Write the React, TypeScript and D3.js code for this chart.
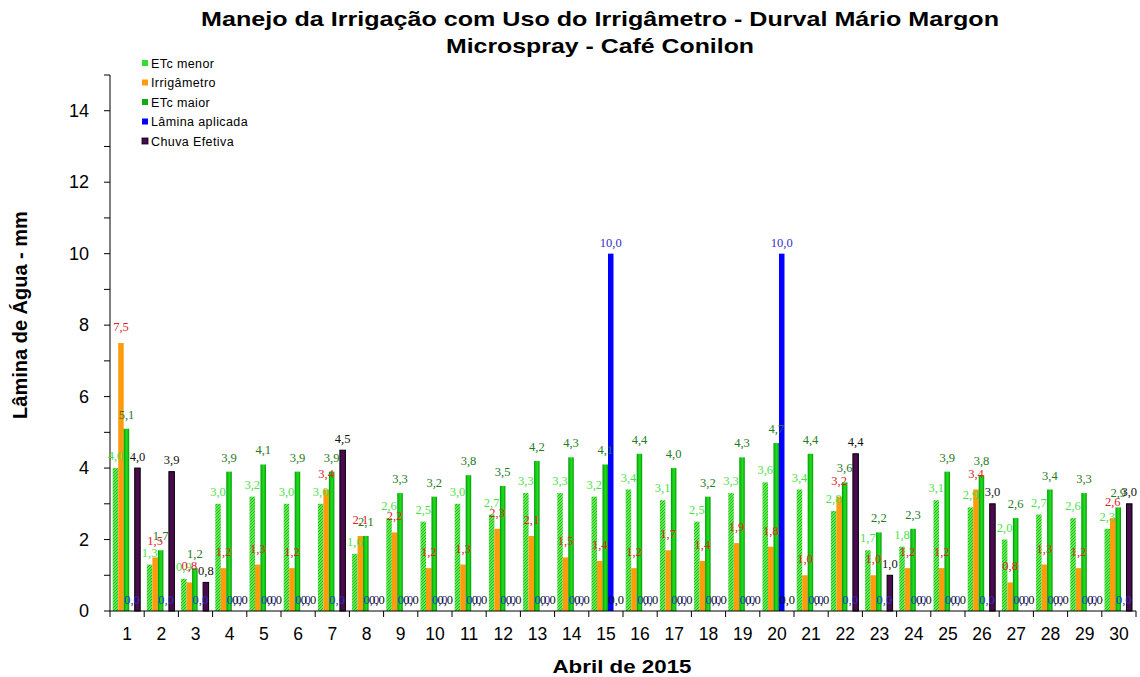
import React from "react";
import * as d3 from "d3";

const days = ["1","2","3","4","5","6","7","8","9","10","11","12","13","14","15","16","17","18","19","20","21","22","23","24","25","26","27","28","29","30"];
const etcMenor = [4.0,1.3,0.9,3.0,3.2,3.0,3.0,1.6,2.6,2.5,3.0,2.7,3.3,3.3,3.2,3.4,3.1,2.5,3.3,3.6,3.4,2.8,1.7,1.8,3.1,2.9,2.0,2.7,2.6,2.3];
const irrigametro = [7.5,1.5,0.8,1.2,1.3,1.2,3.4,2.1,2.2,1.2,1.3,2.3,2.1,1.5,1.4,1.2,1.7,1.4,1.9,1.8,1.0,3.2,1.0,1.2,1.2,3.4,0.8,1.3,1.2,2.6];
const etcMaior = [5.1,1.7,1.2,3.9,4.1,3.9,3.9,2.1,3.3,3.2,3.8,3.5,4.2,4.3,4.1,4.4,4.0,3.2,4.3,4.7,4.4,3.6,2.2,2.3,3.9,3.8,2.6,3.4,3.3,2.9];
const laminaAplicada = [0,0,0,0,0,0,0,0,0,0,0,0,0,0,10.0,0,0,0,0,10.0,0,0,0,0,0,0,0,0,0,0];
const chuvaEfetiva = [4.0,3.9,0.8,0,0,0,4.5,0,0,0,0,0,0,0,0,0,0,0,0,0,0,4.4,1.0,0,0,3.0,0,0,0,3.0];
const yTicks = [0,2,4,6,8,10,12,14];
const yMinorTicks = [1,3,5,7,9,11,13,15];

const seriesNames = ["ETc menor","Irrigâmetro","ETc maior","Lâmina aplicada","Chuva Efetiva"];
const seriesValues = [etcMenor, irrigametro, etcMaior, laminaAplicada, chuvaEfetiva];
const seriesFill = ["url(#hatchGreen)","#ff9c0c","url(#gradGreen)","#0000ff","#4a0b4e"];
const seriesStroke = ["none","none","none","none","#000"];
const legendFill = ["#33dd33","#ff9c0c","#11aa11","#0000ff","#4a0b4e"];
const labelColor = ["#4ee04a","#e3202a","#237a23","#3030c8","#111"];
const labelOffset = [8,12,10,7,7.5];

const W = 1140, H = 677;
const M = { left: 110, right: 1136, top: 75, bottom: 611 };
const SANS = "Arial, Liberation Sans, sans-serif";

export default function App() {
  const x0 = d3.scaleBand<string>().domain(days).range([M.left, M.right]).padding(0);
  const x1 = d3.scaleBand<string>().domain(seriesNames).range([2.7, 30.2]).padding(0);
  const y = d3.scaleLinear().domain([0, 15]).range([M.bottom, M.top]);
  const fmt = (v: number) => v.toFixed(1).replace(".", ",");

  return (
    <svg width={W} height={H} style={{ position: "absolute", left: 0, top: 0, background: "#fff" }}>
      <defs>
        <pattern id="hatchGreen" width="3" height="3" patternUnits="userSpaceOnUse">
          <rect width="3" height="3" fill="#62ec52" />
          <rect x="0" y="0" width="1" height="1" fill="#22b822" />
          <rect x="2" y="1" width="1" height="1" fill="#22b822" />
          <rect x="1" y="2" width="1" height="1" fill="#22b822" />
        </pattern>
        <linearGradient id="gradGreen" x1="0" x2="1" y1="0" y2="0">
          <stop offset="0" stopColor="#008f00" />
          <stop offset="0.25" stopColor="#10c410" />
          <stop offset="0.6" stopColor="#22dd22" />
          <stop offset="1" stopColor="#009a00" />
        </linearGradient>
      </defs>

      {/* Title */}
      <text x={600} y={26} textAnchor="middle" fontFamily={SANS} fontWeight="bold" fontSize={21}
        textLength={798} lengthAdjust="spacingAndGlyphs">
        Manejo da Irrigação com Uso do Irrigâmetro - Durval Mário Margon
      </text>
      <text x={600} y={53} textAnchor="middle" fontFamily={SANS} fontWeight="bold" fontSize={21}
        textLength={308} lengthAdjust="spacingAndGlyphs">
        Microspray - Café Conilon
      </text>

      {/* Bars */}
      {seriesNames.map((s, si) => (
        <g key={s}>
          {days.map((d, di) => {
            const v = seriesValues[si][di];
            const bx = (x0(d) as number) + (x1(s) as number);
            const bw = x1.bandwidth();
            if (v <= 0) return null;
            return (
              <rect key={d} x={bx} y={y(v)} width={bw} height={y(0) - y(v)}
                fill={seriesFill[si]} stroke={seriesStroke[si]} strokeWidth={seriesStroke[si] === "none" ? 0 : 1} />
            );
          })}
        </g>
      ))}

      {/* Axes */}
      <line x1={M.left} x2={M.left} y1={M.top} y2={M.bottom} stroke="#000" />
      <line x1={M.left} x2={M.right} y1={M.bottom} y2={M.bottom} stroke="#000" />
      {yTicks.map((t) => (
        <g key={"yt" + t}>
          <line x1={M.left - 6} x2={M.left} y1={y(t)} y2={y(t)} stroke="#000" />
          <text x={89} y={y(t) + 6} textAnchor="end" fontFamily={SANS} fontSize={18}>{t}</text>
        </g>
      ))}
      {yMinorTicks.map((t) => (
        <line key={"ym" + t} x1={M.left - 6} x2={M.left} y1={y(t)} y2={y(t)} stroke="#000" />
      ))}
      {days.map((d) => (
        <g key={"xt" + d}>
          <line x1={x0(d) as number} x2={x0(d) as number} y1={M.bottom} y2={M.bottom + 6} stroke="#000" />
          <text x={(x0(d) as number) + x0.bandwidth() / 2} y={640} textAnchor="middle" fontFamily={SANS} fontSize={17.5}>{d}</text>
        </g>
      ))}
      <line x1={M.right} x2={M.right} y1={M.bottom} y2={M.bottom + 6} stroke="#000" />

      {/* Data labels */}
      {seriesNames.map((s, si) => (
        <g key={"lab" + s}>
          {days.map((d, di) => {
            const v = seriesValues[si][di];
            const cx = (x0(d) as number) + (x1(s) as number) + x1.bandwidth() / 2;
            return (
              <text key={d} x={cx} y={y(v) - labelOffset[si]} textAnchor="middle"
                fontFamily="Liberation Serif, Times New Roman, serif" fontSize={12.5} fill={labelColor[si]}>
                {fmt(v)}
              </text>
            );
          })}
        </g>
      ))}

      {/* Axis titles */}
      <text transform="translate(27,315) rotate(-90)" textAnchor="middle" fontFamily={SANS} fontWeight="bold" fontSize={20}>
        Lâmina de Água - mm
      </text>
      <text x={622} y={673} textAnchor="middle" fontFamily={SANS} fontWeight="bold" fontSize={19}
        textLength={139} lengthAdjust="spacingAndGlyphs">
        Abril de 2015
      </text>

      {/* Legend */}
      {seriesNames.map((s, si) => (
        <g key={"lg" + s} transform={`translate(142,${63 + si * 19.5})`}>
          <rect x={0} y={-3} width={6} height={6} fill={legendFill[si]} stroke={si === 4 ? "#000" : "none"} strokeWidth={0.8} />
          <text x={9} y={4.5} fontFamily={SANS} fontSize={12.5} letterSpacing={0.4}>{s}</text>
        </g>
      ))}
    </svg>
  );
}
